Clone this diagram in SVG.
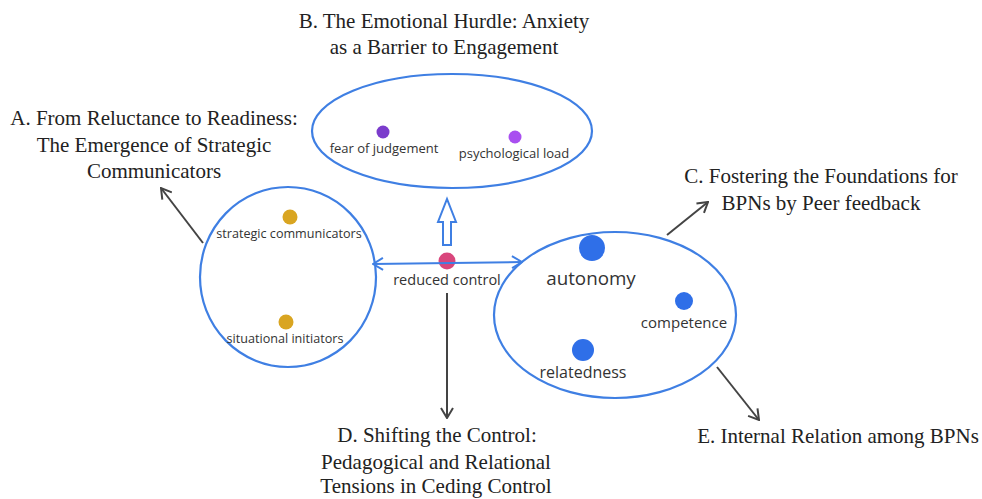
<svg xmlns="http://www.w3.org/2000/svg" width="982" height="499" viewBox="0 0 982 499">
<style>
.title{font-family:"Liberation Serif","Times New Roman",serif;font-size:21px;fill:#222;text-anchor:middle}
.lbl{font-family:"Open Sans","Noto Sans",sans-serif;fill:#333;text-anchor:middle}
.ring{fill:none;stroke:#3f7fe3;stroke-width:2.2}
.conn{stroke:#444;stroke-width:2;fill:none}
</style>
<defs>
<marker id="arr" viewBox="0 0 12 14" refX="11" refY="7" markerWidth="12" markerHeight="14" orient="auto" markerUnits="userSpaceOnUse"><path d="M1,1 L11,7 L1,13" fill="none" stroke="#444" stroke-width="2"/></marker>
<marker id="barr" viewBox="0 0 12 14" refX="11" refY="7" markerWidth="12" markerHeight="14" orient="auto-start-reverse" markerUnits="userSpaceOnUse"><path d="M1,1 L11,7 L1,13" fill="none" stroke="#3f7fe3" stroke-width="2"/></marker>
</defs>
<rect width="982" height="499" fill="#fff"/>

<g id="titles">
<text class="title" x="444" y="28">B. The Emotional Hurdle: Anxiety</text>
<text class="title" x="444" y="54">as a Barrier to Engagement</text>
<text class="title" x="154" y="125">A. From Reluctance to Readiness:</text>
<text class="title" x="154" y="152">The Emergence of Strategic</text>
<text class="title" x="154" y="178">Communicators</text>
<text class="title" x="821" y="183">C. Fostering the Foundations for</text>
<text class="title" x="821" y="210">BPNs by Peer feedback</text>
<text class="title" x="437" y="442" font-size="20">D. Shifting the Control:</text>
<text class="title" x="436" y="469" font-size="20">Pedagogical and Relational</text>
<text class="title" x="436" y="493" font-size="20">Tensions in Ceding Control</text>
<text class="title" x="838" y="443">E. Internal Relation among BPNs</text>
</g>

<g id="anxiety">
<ellipse class="ring" cx="452" cy="131" rx="140" ry="57"/>
<circle cx="383" cy="132" r="6.5" fill="#7b3ccc"/>
<text class="lbl" x="384" y="153" font-size="13">fear of judgement</text>
<circle cx="515" cy="137" r="6.5" fill="#a94ff0"/>
<text class="lbl" x="514" y="158" font-size="13">psychological load</text>
</g>

<g id="communicators">
<ellipse class="ring" cx="288" cy="277" rx="88" ry="90"/>
<circle cx="290" cy="217" r="7.5" fill="#d9a521"/>
<text class="lbl" x="289" y="238" font-size="12.6">strategic communicators</text>
<circle cx="286" cy="322" r="7.5" fill="#d9a521"/>
<text class="lbl" x="285" y="343" font-size="12.6">situational initiators</text>
</g>

<g id="bpns">
<ellipse class="ring" cx="615" cy="315" rx="121" ry="83"/>
<circle cx="592" cy="248" r="13" fill="#2f6fe8"/>
<text class="lbl" x="591" y="285" font-size="18.8">autonomy</text>
<circle cx="684" cy="301" r="9" fill="#2f6fe8"/>
<text class="lbl" x="684" y="328" font-size="15">competence</text>
<circle cx="583" cy="350" r="11" fill="#2f6fe8"/>
<text class="lbl" x="583" y="378" font-size="16">relatedness</text>
</g>

<g id="control">
<circle cx="447" cy="261" r="8.5" fill="#d9467c"/>
<text class="lbl" x="447" y="285" font-size="14.5">reduced control</text>
</g>

<g id="connectors">
<line x1="373" y1="264" x2="522" y2="262" stroke="#3f7fe3" stroke-width="2" marker-start="url(#barr)" marker-end="url(#barr)"/>
<polygon points="443,245 451,245 451,222 456,222 447,199 438,222 443,222" fill="#fff" stroke="#3f7fe3" stroke-width="2" stroke-linejoin="miter"/>
<line class="conn" x1="447" y1="293" x2="447" y2="418" marker-end="url(#arr)"/>
<line class="conn" x1="203" y1="243" x2="161" y2="188" marker-end="url(#arr)"/>
<line class="conn" x1="667" y1="235" x2="708" y2="202" marker-end="url(#arr)"/>
<line class="conn" x1="717" y1="367" x2="759" y2="420" marker-end="url(#arr)"/>
</g>
</svg>
